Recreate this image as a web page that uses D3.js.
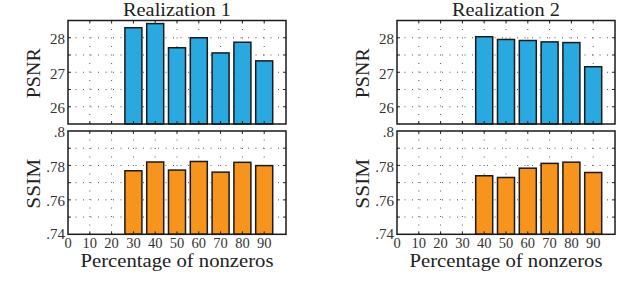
<!DOCTYPE html>
<html>
<head>
<meta charset="utf-8">
<script src="https://cdn.jsdelivr.net/npm/d3@7"></script>
<style>
  body { margin: 0; background: #fff; }
</style>
</head>
<body>
<div id="chart"></div>
<script>
// Datos
var titles = ["Realization 1", "Realization 2"];
var xTicks = [0, 10, 20, 30, 40, 50, 60, 70, 80, 90];

var pct1 = [30, 40, 50, 60, 70, 80, 90];
var psnr1 = [28.29, 28.41, 27.71, 28.0, 27.56, 27.87, 27.33];
var ssim1 = [0.7769, 0.7820, 0.7773, 0.7823, 0.7761, 0.7818, 0.7799];

var pct2 = [40, 50, 60, 70, 80, 90];
var psnr2 = [28.03, 27.95, 27.92, 27.88, 27.86, 27.16];
var ssim2 = [0.7740, 0.7730, 0.7784, 0.7812, 0.7819, 0.7759];

var psnrTicks = [26, 27, 28];
var psnrTickLabels = ["26", "27", "28"];
var ssimTicks = [0.74, 0.76, 0.78, 0.8];
var ssimTickLabels = [".74", ".76", ".78", ".8"];

var W = 640, H = 297;
var svg = d3.select("#chart").append("svg")
	.attr("width", W).attr("height", H)
	.style("font-family", "'Liberation Serif', 'Times New Roman', serif");

var panels = [
	{x0: 68, title: titles[0], pct: pct1, psnr: psnr1, ssim: ssim1},
	{x0: 397, title: titles[1], pct: pct2, psnr: psnr2, ssim: ssim2}
];
var pw = 218;
var rows = [
	{key: "psnr", y0: 20.5, y1: 124, domain: [25.5, 28.5], grid: d3.range(25.5, 28.51, 0.5),
	 ticks: psnrTicks, labels: psnrTickLabels, color: "#29a9e0", name: "PSNR"},
	{key: "ssim", y0: 131, y1: 234.3, domain: [0.74, 0.8], grid: d3.range(0.74, 0.8001, 0.01),
	 ticks: ssimTicks, labels: ssimTickLabels, color: "#f7941d", name: "SSIM"}
];

panels.forEach(function(p) {
	var x = d3.scaleLinear().domain([0, 100]).range([p.x0, p.x0 + pw]);
	var bw = (x(10) - x(0)) * 0.78;

	rows.forEach(function(r, ri) {
		var y = d3.scaleLinear().domain(r.domain).range([r.y1, r.y0]);
		var g = svg.append("g");

		// rejilla punteada
		g.selectAll(".gh").data(r.grid.slice(1, -1)).enter().append("line")
			.attr("x1", x(0)).attr("x2", x(100))
			.attr("y1", function(d) { return y(d); }).attr("y2", function(d) { return y(d); })
			.attr("stroke", "#555").attr("stroke-width", 1)
			.attr("stroke-dasharray", "1,6.5");
		g.selectAll(".gv").data(xTicks.slice(1)).enter().append("line")
			.attr("x1", function(d) { return x(d); }).attr("x2", function(d) { return x(d); })
			.attr("y1", r.y0).attr("y2", r.y1)
			.attr("stroke", "#555").attr("stroke-width", 1)
			.attr("stroke-dasharray", "1,7.5");

		// barras
		var vals = p[r.key];
		g.selectAll("rect").data(p.pct).enter().append("rect")
			.attr("x", function(d) { return x(d) - bw / 2; })
			.attr("width", bw)
			.attr("y", function(d, i) { return y(vals[i]); })
			.attr("height", function(d, i) { return r.y1 - y(vals[i]); })
			.attr("fill", r.color)
			.attr("stroke", "#1a1a1a").attr("stroke-width", 1.5);

		// ticks interiores
		var tl = 3;
		r.grid.slice(1, -1).forEach(function(v) {
			g.append("line").attr("x1", x(0)).attr("x2", x(0) + tl)
				.attr("y1", y(v)).attr("y2", y(v)).attr("stroke", "#222");
			g.append("line").attr("x1", x(100)).attr("x2", x(100) - tl)
				.attr("y1", y(v)).attr("y2", y(v)).attr("stroke", "#222");
		});
		xTicks.slice(1).forEach(function(v) {
			g.append("line").attr("x1", x(v)).attr("x2", x(v))
				.attr("y1", r.y1).attr("y2", r.y1 - tl).attr("stroke", "#222");
			g.append("line").attr("x1", x(v)).attr("x2", x(v))
				.attr("y1", r.y0).attr("y2", r.y0 + tl).attr("stroke", "#222");
		});

		// marco
		g.append("rect")
			.attr("x", x(0)).attr("y", r.y0)
			.attr("width", x(100) - x(0)).attr("height", r.y1 - r.y0)
			.attr("fill", "none").attr("stroke", "#1a1a1a").attr("stroke-width", 1.5);

		// etiquetas eje y
		g.selectAll(".yl").data(r.ticks).enter().append("text")
			.attr("x", x(0) - 3)
			.attr("y", function(d) { return y(d) + 1 - (d === 0.74 ? 1.5 : 0); })
			.attr("dy", "0.35em")
			.attr("text-anchor", "end")
			.attr("font-size", 15)
			.attr("fill", "#333")
			.text(function(d, i) { return r.labels[i]; });

		// nombre eje y
		g.append("text")
			.attr("transform", "translate(" + (p.x0 - 28) + "," + ((r.y0 + r.y1) / 2 + 1) + ") rotate(-90)")
			.attr("text-anchor", "middle")
			.attr("font-size", 19.5)
			.attr("textLength", 50).attr("lengthAdjust", "spacingAndGlyphs")
			.attr("fill", "#222")
			.text(r.name);

		if (ri === 0) {
			g.append("text")
				.attr("x", x(50)).attr("y", 16.3)
				.attr("text-anchor", "middle")
				.attr("font-size", 18.2)
				.attr("textLength", 108).attr("lengthAdjust", "spacingAndGlyphs")
				.attr("fill", "#222")
				.text(p.title);
		} else {
			g.selectAll(".xl").data(xTicks).enter().append("text")
				.attr("x", function(d) { return x(d); })
				.attr("y", 247.5)
				.attr("text-anchor", "middle")
				.attr("font-size", 14.5)
				.attr("fill", "#333")
				.text(function(d) { return d; });
			g.append("text")
				.attr("x", x(50)).attr("y", 267)
				.attr("text-anchor", "middle")
				.attr("font-size", 18.2)
				.attr("textLength", 193).attr("lengthAdjust", "spacingAndGlyphs")
				.attr("fill", "#222")
				.text("Percentage of nonzeros");
		}
	});
});
</script>
</body>
</html>
